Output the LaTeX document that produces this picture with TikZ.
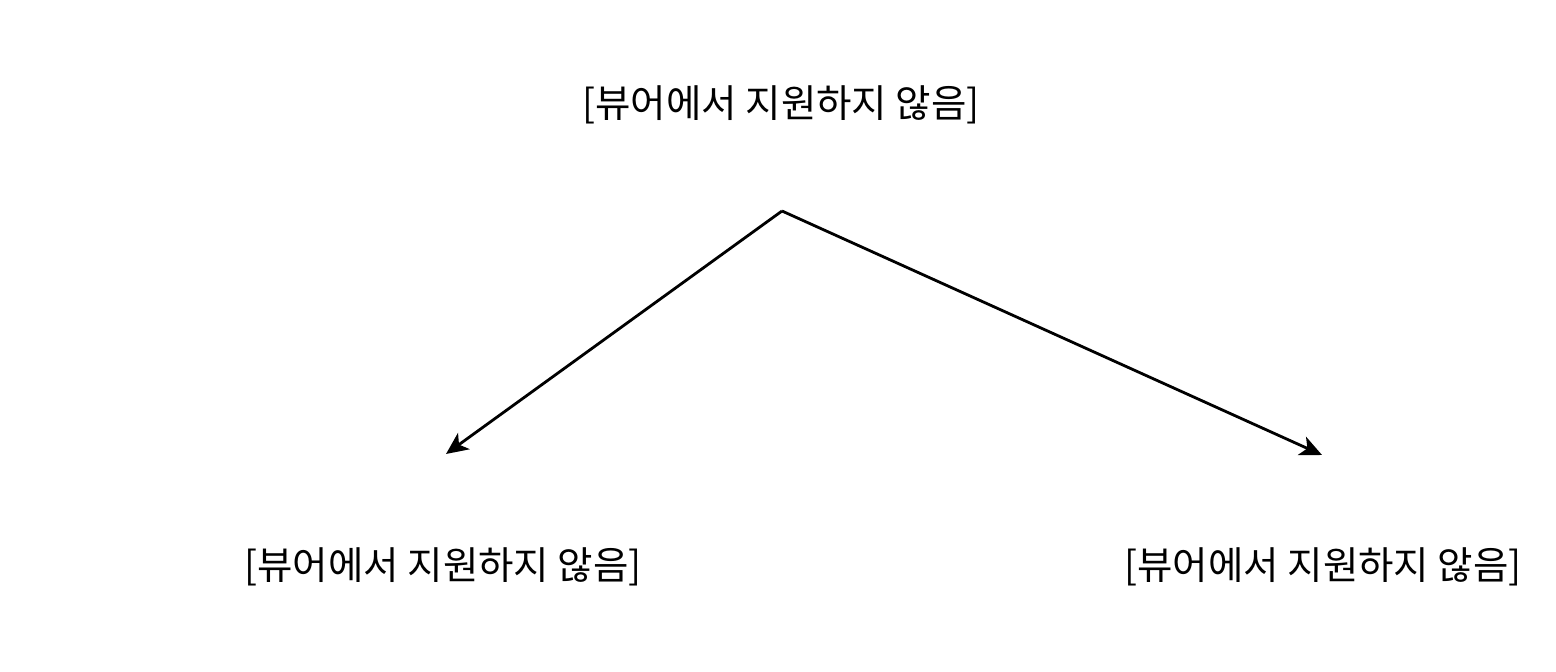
\documentclass[tikz,border=0pt]{standalone}
\usepackage{fontspec}
\newfontfamily\kr{Noto Sans CJK KR}
\usetikzlibrary{arrows.meta}
\begin{document}
\begin{tikzpicture}[x=1pt,y=1pt,
  lbl/.style={font=\kr\fontsize{38.5}{44}\selectfont, inner sep=0pt},
  conn/.style={line width=2.8pt, -{Stealth[length=22pt,width=20pt,inset=6pt]}}]
\useasboundingbox[fill=white] (0,0) rectangle (1556,672);
\node[lbl] (top) at (781,567) {[뷰어에서 지원하지 않음]};
\node[lbl] (left) at (443,105) {[뷰어에서 지원하지 않음]};
\node[lbl] (right) at (1323,105) {[뷰어에서 지원하지 않음]};
\coordinate (src) at (782,461);
\coordinate (lt) at (446,218);
\coordinate (rt) at (1322,217);
\draw[conn] (src) -- (lt);
\draw[conn] (src) -- (rt);
\end{tikzpicture}
\end{document}
